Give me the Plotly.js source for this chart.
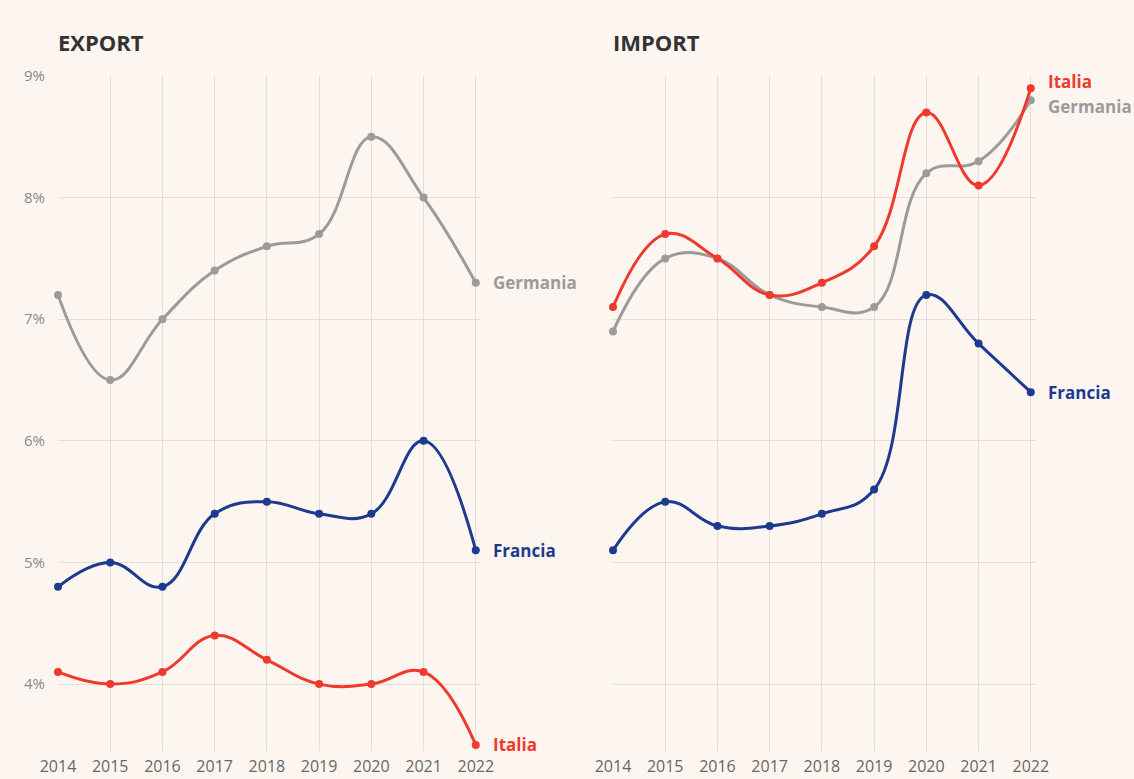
<!DOCTYPE html>
<html>
<head>
<meta charset="utf-8">
<script src="https://cdn.plot.ly/plotly-3.0.1.min.js"></script>
<style>
html,body{margin:0;padding:0;background:#fdf6f0;}
#chart{width:1134px;height:779px;}
</style>
</head>
<body>
<div id="chart"></div>
<script>
// Data
const years = [2014, 2015, 2016, 2017, 2018, 2019, 2020, 2021, 2022];
const exportGermania = [7.2, 6.5, 7.0, 7.4, 7.6, 7.7, 8.5, 8.0, 7.3];
const exportFrancia  = [4.8, 5.0, 4.8, 5.4, 5.5, 5.4, 5.4, 6.0, 5.1];
const exportItalia   = [4.1, 4.0, 4.1, 4.4, 4.2, 4.0, 4.0, 4.1, 3.5];
const importItalia   = [7.1, 7.7, 7.5, 7.2, 7.3, 7.6, 8.7, 8.1, 8.9];
const importGermania = [6.9, 7.5, 7.5, 7.2, 7.1, 7.1, 8.2, 8.3, 8.8];
const importFrancia  = [5.1, 5.5, 5.3, 5.3, 5.4, 5.6, 7.2, 6.8, 6.4];
const yTicks = [4, 5, 6, 7, 8, 9];
const yTickLabels = ['4%', '5%', '6%', '7%', '8%', '9%'];
const panelTitles = ['EXPORT', 'IMPORT'];

const colors = {Germania: '#9b9b9b', Francia: '#1d3a8f', Italia: '#ee3a2c'};
const FONT = '"Open Sans", "Noto Sans", sans-serif';

function tr(y, name, xa, ya) {
  return {
    x: years, y: y, name: name, xaxis: xa, yaxis: ya,
    type: 'scatter', mode: 'lines+markers',
    line: {color: colors[name], width: 3, shape: 'spline', smoothing: 1.2},
    marker: {color: colors[name], size: 8},
    cliponaxis: false, showlegend: false, hoverinfo: 'x+y'
  };
}

const data = [
  tr(exportGermania, 'Germania', 'x', 'y'),
  tr(exportFrancia, 'Francia', 'x', 'y'),
  tr(exportItalia, 'Italia', 'x', 'y'),
  tr(importGermania, 'Germania', 'x2', 'y2'),
  tr(importFrancia, 'Francia', 'x2', 'y2'),
  tr(importItalia, 'Italia', 'x2', 'y2')
];

const W = 1134, H = 779;
const gridColor = '#e6ddd6';
const xcommon = {
  range: [2014, 2022.1], tickvals: years, ticktext: years.map(String),
  showgrid: true, gridcolor: gridColor, gridwidth: 1.2, zeroline: false,
  showline: false, ticks: '', tickfont: {family: FONT, size: 16, color: '#666'},
  ticklabelstandoff: 4, fixedrange: true
};
const ycommon = {
  range: [3.45, 9.0], tickvals: yTicks, ticktext: yTickLabels,
  showgrid: true, gridcolor: gridColor, gridwidth: 1.2, zeroline: false,
  showline: false, ticks: '', tickfont: {family: FONT, size: 15, color: '#8a8a8a'},
  domain: [(H - 751) / H, (H - 76) / H], fixedrange: true
};

function lastLabel(text, y, xa, ya, name, yshift) {
  return {
    text: '<b>' + text + '</b>', x: 2022, y: y, xref: xa, yref: ya,
    xanchor: 'left', yanchor: 'middle', xshift: 15, yshift: yshift || 0,
    showarrow: false, font: {family: FONT, size: 17, color: colors[name]}
  };
}

const annotations = [
  {text: '<b>' + panelTitles[0] + '</b>', x: 56 / W, y: (H - 42) / H, xref: 'paper', yref: 'paper',
   xanchor: 'left', yanchor: 'middle', showarrow: false, font: {family: FONT, size: 22, color: '#333'}},
  {text: '<b>' + panelTitles[1] + '</b>', x: 611 / W, y: (H - 42) / H, xref: 'paper', yref: 'paper',
   xanchor: 'left', yanchor: 'middle', showarrow: false, font: {family: FONT, size: 22, color: '#333'}},
  lastLabel('Germania', exportGermania[8], 'x', 'y', 'Germania'),
  lastLabel('Francia', exportFrancia[8], 'x', 'y', 'Francia'),
  lastLabel('Italia', exportItalia[8], 'x', 'y', 'Italia'),
  lastLabel('Italia', importItalia[8], 'x2', 'y2', 'Italia', 7),
  lastLabel('Germania', importGermania[8], 'x2', 'y2', 'Germania', -6),
  lastLabel('Francia', importFrancia[8], 'x2', 'y2', 'Francia')
];

const layout = {
  width: W, height: H,
  margin: {l: 0, r: 0, t: 0, b: 0},
  paper_bgcolor: '#fdf6f0', plot_bgcolor: '#fdf6f0',
  font: {family: FONT},
  xaxis: Object.assign({}, xcommon, {domain: [58 / W, 481 / W], anchor: 'y'}),
  yaxis: Object.assign({}, ycommon, {anchor: 'x', ticklabelstandoff: 12}),
  xaxis2: Object.assign({}, xcommon, {domain: [613 / W, 1036 / W], anchor: 'y2'}),
  yaxis2: Object.assign({}, ycommon, {anchor: 'x2', showticklabels: false}),
  annotations: annotations
};

Plotly.newPlot('chart', data, layout, {displayModeBar: false, staticPlot: true});
</script>
</body>
</html>
